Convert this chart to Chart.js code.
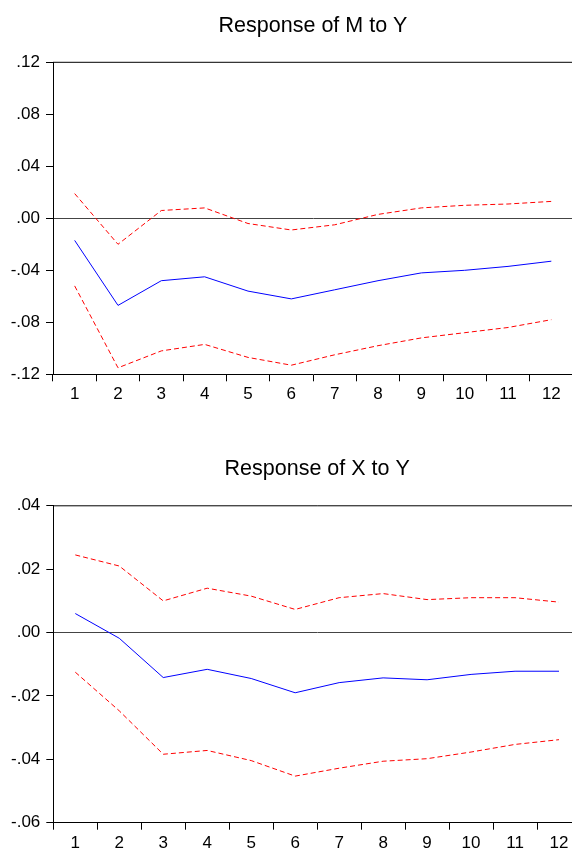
<!DOCTYPE html>
<html>
<head>
<meta charset="utf-8">
<title>Impulse responses</title>
<script src="https://cdn.jsdelivr.net/npm/chart.js"></script>
<style>
    html, body { margin: 0; padding: 0; background: #fff; overflow: hidden; }
    #wrap { position: relative; width: 572px; height: 850px; overflow: hidden; }
    canvas { display: block; }
</style>
</head>
<body>
<div id="wrap">
    <canvas id="chartMY" width="574" height="425"></canvas>
    <canvas id="chartXY" width="582" height="425"></canvas>
</div>
<script>
// periods after the shock
const horizons = ["1", "2", "3", "4", "5", "6", "7", "8", "9", "10", "11", "12"];

// Response of M to Y (response, +/- 2 S.E. bands)
const myResponse = [-0.017, -0.067, -0.048, -0.045, -0.056, -0.062, -0.055, -0.048, -0.042, -0.040, -0.037, -0.033];
const myUpper = [0.019, -0.020, 0.006, 0.008, -0.004, -0.009, -0.005, 0.003, 0.008, 0.010, 0.011, 0.013];
const myLower = [-0.052, -0.115, -0.102, -0.097, -0.107, -0.113, -0.105, -0.098, -0.092, -0.088, -0.084, -0.078];

// Response of X to Y
const xyResponse = [0.006, -0.0018, -0.0142, -0.0116, -0.0145, -0.019, -0.0158, -0.0143, -0.0149, -0.0132, -0.0122, -0.0122];
const xyUpper = [0.0245, 0.021, 0.010, 0.014, 0.0115, 0.0073, 0.011, 0.0123, 0.0104, 0.011, 0.011, 0.0096];
const xyLower = [-0.0125, -0.0247, -0.0384, -0.0372, -0.0404, -0.0453, -0.0428, -0.0406, -0.0398, -0.0377, -0.0353, -0.0338];

// y axis ticks
const myTicks = { min: -0.12, max: 0.12, step: 0.04 };
const xyTicks = { min: -0.06, max: 0.04, step: 0.02 };

const FONT = "'Liberation Sans', Arial, sans-serif";

// draws the top and right edge of the plot box
const frame = {
    id: "frame",
    afterDraw(chart) {
        const a = chart.chartArea;
        const c = chart.ctx;
        c.save();
        c.strokeStyle = "#000";
        c.lineWidth = 1;
        c.beginPath();
        c.moveTo(a.left, a.top);
        c.lineTo(a.right, a.top);
        c.lineTo(a.right, a.bottom);
        c.stroke();
        c.restore();
    }
};

function fmt(v) {
    return Number(v).toFixed(2).replace("0.", ".");
}

function makeChart(id, title, resp, upper, lower, yt, box) {
    const ctx = document.getElementById(id).getContext("2d");
    return new Chart(ctx, {
        type: "line",
        data: {
            labels: horizons,
            datasets: [
                { data: upper, borderColor: "#ff0000", borderWidth: 1, borderDash: [5, 3], pointRadius: 0, fill: false, tension: 0 },
                { data: lower, borderColor: "#ff0000", borderWidth: 1, borderDash: [5, 3], pointRadius: 0, fill: false, tension: 0 },
                { data: resp, borderColor: "#0000ff", borderWidth: 1, pointRadius: 0, fill: false, tension: 0 }
            ]
        },
        options: {
            responsive: false,
            animation: false,
            layout: { padding: { left: 0, right: box.right, top: 0, bottom: 0 } },
            plugins: {
                legend: { display: false },
                tooltip: { enabled: false },
                title: {
                    display: true,
                    fullSize: false,
                    text: title,
                    color: "#000",
                    font: { family: FONT, size: 21.5, weight: "normal" },
                    padding: { top: box.titleTop, bottom: box.titleBottom }
                }
            },
            scales: {
                x: {
                    offset: true,
                    grid: { offset: true, drawOnChartArea: false, tickLength: 7, tickColor: "#000" },
                    border: { color: "#000", width: 1 },
                    ticks: { color: "#000", padding: 3, maxRotation: 0, autoSkip: false, font: { family: FONT, size: 17 } },
                    afterFit: function (s) { s.height = box.xHeight; }
                },
                y: {
                    min: yt.min,
                    max: yt.max,
                    grid: {
                        drawOnChartArea: true,
                        tickLength: 7,
                        tickColor: "#000",
                        color: function (c) { return c.tick && Math.abs(c.tick.value) < 1e-9 ? "#444" : "rgba(0,0,0,0)"; }
                    },
                    border: { color: "#000", width: 1 },
                    ticks: {
                        stepSize: yt.step,
                        color: "#000",
                        padding: 6,
                        font: { family: FONT, size: 17 },
                        callback: fmt
                    },
                    afterFit: function (s) { s.width = box.yWidth; }
                }
            }
        },
        plugins: [frame]
    });
}

document.addEventListener("DOMContentLoaded", function () {
    if (typeof Chart === "undefined") return;
    makeChart("chartMY", "Response of M to Y", myResponse, myUpper, myLower, myTicks,
        { right: 1, titleTop: 13, titleBottom: 23.5, xHeight: 50.7, yWidth: 53 });
    makeChart("chartXY", "Response of X to Y", xyResponse, xyUpper, xyLower, xyTicks,
        { right: 1, titleTop: 31.5, titleBottom: 23.5, xHeight: 27.3, yWidth: 53.3 });
});
</script>
</body>
</html>
